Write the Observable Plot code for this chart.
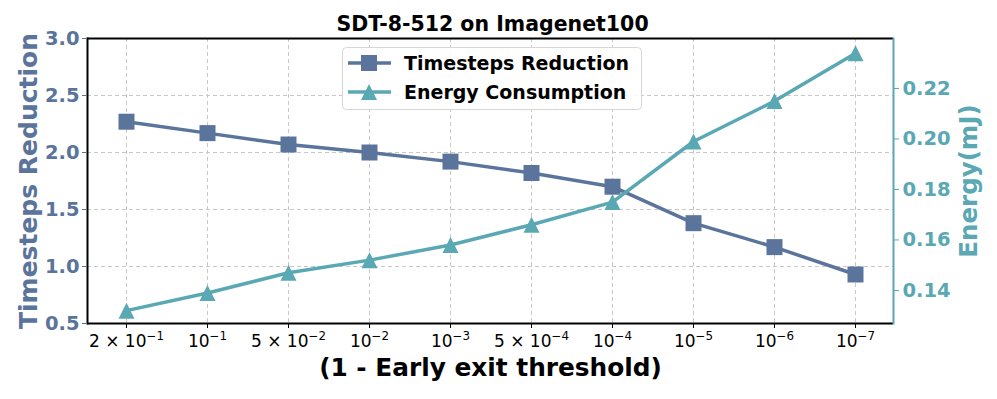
<!DOCTYPE html>
<html>
<head>
<meta charset="utf-8">
<script src="https://cdn.jsdelivr.net/npm/d3@7"></script>
<script src="https://cdn.jsdelivr.net/npm/@observablehq/plot@0.6"></script>
<style>
  html, body { margin: 0; padding: 0; background: #fff; }
  #chart svg { font-family: "DejaVu Sans", sans-serif; }
</style>
</head>
<body>
<div id="chart"></div>
<script>
const categories = ["2 × 10⁻¹", "10⁻¹", "5 × 10⁻²", "10⁻²", "10⁻³", "5 × 10⁻⁴", "10⁻⁴", "10⁻⁵", "10⁻⁶", "10⁻⁷"];
const timesteps = [2.27, 2.17, 2.07, 2.00, 1.92, 1.82, 1.70, 1.38, 1.17, 0.93];
const energy = [0.132, 0.139, 0.147, 0.152, 0.158, 0.166, 0.175, 0.199, 0.215, 0.234];
const leftTicks = [0.5, 1.0, 1.5, 2.0, 2.5, 3.0];
const rightTicks = [0.14, 0.16, 0.18, 0.20, 0.22];
const seriesNames = ["Timesteps Reduction", "Energy Consumption"];

const cT = "#5a749b";
const cE = "#5aa8b4";
const yDom = [0.5, 3.0];
const eDom = [0.1269, 0.2398];
const toLeft = e => yDom[0] + (e - eDom[0]) / (eDom[1] - eDom[0]) * (yDom[1] - yDom[0]);
const fromLeft = y => eDom[0] + (y - yDom[0]) / (yDom[1] - yDom[0]) * (eDom[1] - eDom[0]);

const dataT = categories.map((c, i) => ({cat: c, v: timesteps[i]}));
const dataE = categories.map((c, i) => ({cat: c, v: toLeft(energy[i])}));

const squareSym = {draw(ctx, size) { const h = Math.sqrt(size / Math.PI); ctx.moveTo(-h, -h); ctx.lineTo(h, -h); ctx.lineTo(h, h); ctx.lineTo(-h, h); ctx.closePath(); }};
const triSym = {draw(ctx, size) { const h = Math.sqrt(size / Math.PI); ctx.moveTo(0, -h); ctx.lineTo(h, h); ctx.lineTo(-h, h); ctx.closePath(); }};

const grid = {stroke: "#c8c8c8", strokeOpacity: 1, strokeDasharray: "4,3", strokeWidth: 1};

const plot = Plot.plot({
  width: 997,
  height: 399,
  marginLeft: 87,
  marginRight: 104,
  marginTop: 38,
  marginBottom: 76,
  style: {fontFamily: "DejaVu Sans", background: "#fff"},
  x: {type: "point", domain: categories, padding: 0.45},
  y: {domain: yDom},
  marks: [
    Plot.gridX(categories, grid),
    Plot.gridY(leftTicks, grid),
    Plot.line(dataT, {x: "cat", y: "v", stroke: cT, strokeWidth: 3.5}),
    Plot.dot(dataT, {x: "cat", y: "v", symbol: squareSym, r: 8, fill: cT, stroke: null}),
    Plot.line(dataE, {x: "cat", y: "v", stroke: cE, strokeWidth: 3.5}),
    Plot.dot(dataE, {x: "cat", y: "v", symbol: triSym, r: 8, fill: cE, stroke: null}),
    Plot.ruleY([yDom[0]], {stroke: "#000", strokeWidth: 2}),
    Plot.ruleY([yDom[1]], {stroke: "#000", strokeWidth: 2}),
    Plot.frame({anchor: "left", stroke: "#000", strokeWidth: 2}),
    Plot.frame({anchor: "right", stroke: cE, strokeWidth: 2}),
    Plot.axisY(leftTicks, {anchor: "left", tickFormat: d => d.toFixed(1), color: cT, fontWeight: "bold", fontSize: 19.5, tickSize: 5, tickPadding: 3, tickWidth: 1.5, label: null}),
    Plot.axisY(rightTicks.map(toLeft), {anchor: "right", tickFormat: d => fromLeft(d).toFixed(2), color: cE, fontWeight: "bold", fontSize: 19.5, tickSize: 5, tickPadding: 4, label: null}),
    Plot.axisX({anchor: "bottom", color: "#000", fontSize: 17, tickSize: 5, tickPadding: 6, label: null}),
    Plot.text(["SDT-8-512 on Imagenet100"], {frameAnchor: "top", lineAnchor: "middle", dy: -14, dx: 2, fontSize: 20.5, fontWeight: "bold", fill: "#000"}),
    Plot.text(["(1 - Early exit threshold)"], {frameAnchor: "bottom", lineAnchor: "middle", textAnchor: "middle", dy: 45, fontSize: 24.8, fontWeight: "bold", fill: "#000"}),
    Plot.text(["Timesteps Reduction"], {frameAnchor: "left", lineAnchor: "middle", textAnchor: "middle", dx: -59, rotate: -90, fontSize: 25, fontWeight: "bold", fill: cT}),
    Plot.text(["Energy(mJ)"], {frameAnchor: "right", lineAnchor: "middle", textAnchor: "middle", dx: 76, rotate: -90, fontSize: 24.5, fontWeight: "bold", fill: cE})
  ]
});

const svg = d3.select(plot);

// Render exponents of x tick labels as raised, smaller text (like mathtext)
const supMap = {"⁰":"0","¹":"1","²":"2","³":"3","⁴":"4","⁵":"5","⁶":"6","⁷":"7","⁸":"8","⁹":"9","⁻":"−"};
svg.selectAll('g[aria-label="x-axis tick label"] text').each(function() {
  const t = d3.select(this);
  const s = this.textContent;
  const m = s.match(/[⁰¹²³⁴⁵⁶⁷⁸⁹⁻]+$/);
  if (!m) return;
  const base = s.slice(0, m.index);
  const sup = m[0].split("").map(ch => supMap[ch]).join("");
  t.text(null);
  t.append("tspan").text(base);
  t.append("tspan").attr("font-size", "0.7em").attr("dy", "-0.55em").text(sup);
});

// Legend
const lg = svg.append("g").attr("font-family", "DejaVu Sans").attr("font-weight", "bold").attr("font-size", 19).attr("text-anchor", "start");
lg.append("rect").attr("x", 342.5).attr("y", 47.5).attr("width", 299).attr("height", 62).attr("rx", 4)
  .attr("fill", "#fff").attr("fill-opacity", 0.85).attr("stroke", "#d6d6d6").attr("stroke-width", 1);
const rows = [{name: seriesNames[0], color: cT, sym: "sq", y: 63}, {name: seriesNames[1], color: cE, sym: "tri", y: 92}];
rows.forEach(r => {
  lg.append("line").attr("x1", 348).attr("x2", 391).attr("y1", r.y).attr("y2", r.y).attr("stroke", r.color).attr("stroke-width", 3.5);
  if (r.sym === "sq") lg.append("rect").attr("x", 361).attr("y", r.y - 8).attr("width", 16).attr("height", 16).attr("fill", r.color);
  else lg.append("path").attr("d", `M369,${r.y - 8}L377,${r.y + 8}L361,${r.y + 8}Z`).attr("fill", r.color);
  lg.append("text").attr("x", 404).attr("y", r.y).attr("dy", "0.36em").attr("fill", "#000").text(r.name);
});

document.getElementById("chart").appendChild(plot);
</script>
</body>
</html>
